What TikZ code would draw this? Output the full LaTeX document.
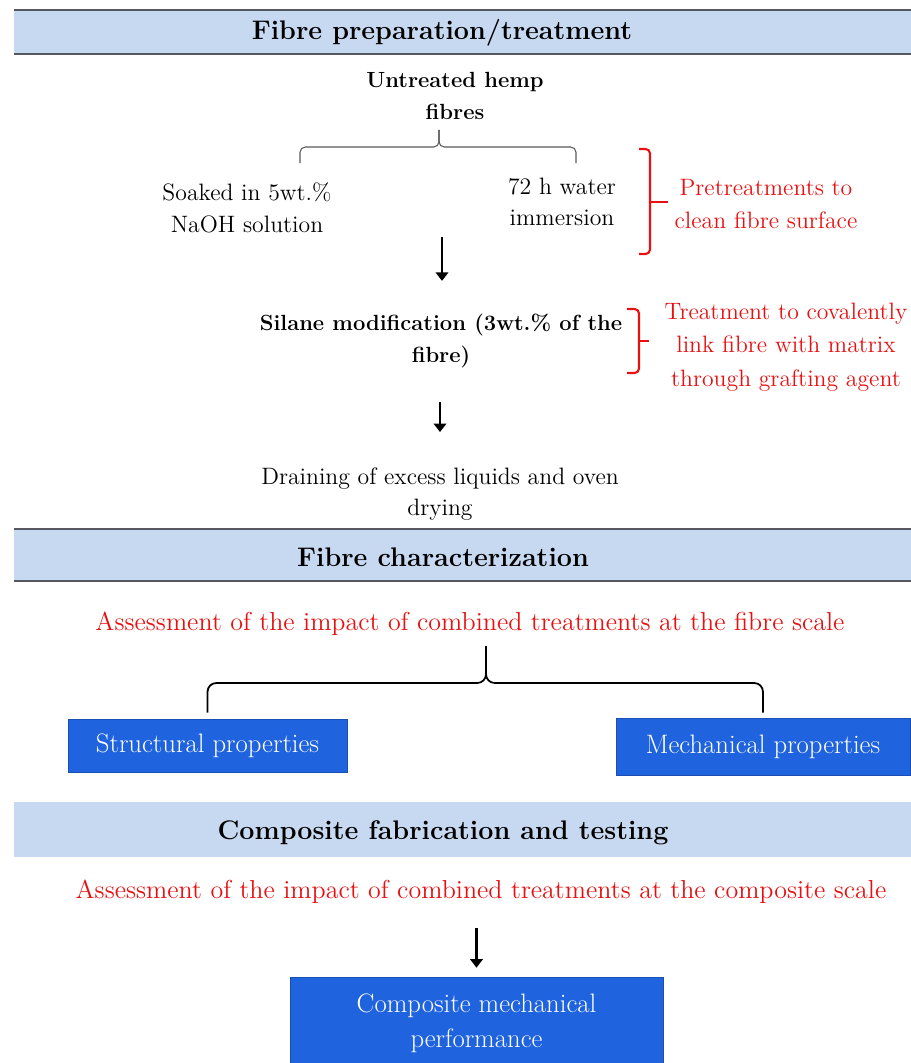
\documentclass[tikz,border=0pt]{standalone}
\usepackage{fontspec}
\usepackage{xcolor}
\usepackage{tikz}
\usetikzlibrary{arrows.meta,positioning,calc}

\definecolor{bandfill}{RGB}{199,217,240}
\definecolor{bandedge}{RGB}{85,88,96}
\definecolor{boxblue}{RGB}{31,99,222}
\definecolor{notered}{RGB}{232,16,16}

\begin{document}
\begin{tikzpicture}[x=0.02cm,y=-0.02cm,
  band/.style={fill=bandfill,minimum width=17.94cm,inner sep=0},
  head/.style={font=\bfseries\fontsize{15.3}{18}\selectfont,inner sep=0},
  txt/.style={font=\fontsize{13.5}{18}\selectfont,align=center,inner sep=0},
  btxt/.style={txt,font=\bfseries\fontsize{12.5}{18}\selectfont},
  note/.style={txt,text=notered,font=\fontsize{13.5}{19}\selectfont},
  wide/.style={font=\fontsize{14.8}{19}\selectfont},
  bluebox/.style={txt,fill=boxblue,draw=boxblue!80!black,line width=0.4pt,text=white,
    font=\fontsize{15.2}{20}\selectfont},
  flow/.style={line width=1.7pt,-{Triangle[length=1.7mm,width=2.5mm]}},
  bracket/.style={notered,line width=1.2pt,rounded corners=2.5pt},
  fork/.style={line width=0.6pt,rounded corners=3pt},
]
  \useasboundingbox (0,0) rectangle (911,1063);

  % fibre preparation
  \node[band,minimum height=0.88cm] (band1) at (462.5,32) {};
  \draw[bandedge,line width=1.2pt] (band1.north west) -- (band1.north east)
    (band1.south west) -- (band1.south east);
  \node[head] (head1) at (442,33) {Fibre preparation/treatment};
  \node[btxt] (hemp) at (455,96) {Untreated hemp\\fibres};

  \node[txt] (soak) at (247,208) {Soaked in 5wt.\%\\NaOH solution};
  \node[txt] (water) at (562,202) {72 h water\\immersion};
  \node[note] (pretreat) at (766,204) {Pretreatments to\\clean fibre surface};

  \coordinate (split1) at (439,147);
  \coordinate (s1l) at (300,163);
  \coordinate (s1r) at (576,163);
  \draw[fork,black!65,shorten >=0.2cm] (s1l) |- (split1) -- (split1 |- hemp.south);
  \draw[fork,black!65,shorten >=0.2cm] (s1r) |- (split1) -- (split1 |- hemp.south);

  % pretreatment bracket
  \draw[bracket] (639,149) -| (650,254) -- (639,254);
  \coordinate (b1) at (650,202);
  \draw[bracket,shorten >=0.12cm] (b1) -- (b1 -| pretreat.west);

  \node[btxt] (silane) at (441,341) {Silane modification (3wt.\% of the\\fibre)};
  \node[note] (graft) at (786,347) {Treatment to covalently\\link fibre with matrix\\through grafting agent};
  \draw[bracket] (627,309) -| (639,373) -- (627,373);
  \coordinate (b2) at (639,341);
  \draw[bracket,shorten >=0.3cm] (b2) -- (b2 -| graft.west);

  \coordinate (a1) at (442,237);
  \draw[flow,shorten >=0.66cm] (a1) -- (a1 |- silane.north);

  \node[txt] (drain) at (440,494) {Draining of excess liquids and oven\\drying};
  \draw[flow,shorten <=0.68cm,shorten >=0.7cm] (silane.south -| drain.north) -- (drain.north);

  % fibre characterization
  \node[band,minimum height=1.04cm] (band2) at (462.5,555) {};
  \draw[bandedge,line width=1.2pt] (band2.north west) -- (band2.north east)
    (band2.south west) -- (band2.south east);
  \node[head] (head2) at (443,557) {Fibre characterization};
  \node[note,wide] (assess1) at (470,624) {Assessment of the impact of combined treatments at the fibre scale};

  \node[bluebox,minimum width=5.58cm,minimum height=1.06cm] (struct) at (207.5,745.5) {Structural properties};
  \node[bluebox,minimum width=5.88cm,minimum height=1.14cm] (mech) at (763,746.5) {Mechanical properties};

  \coordinate (split2) at (486,683);
  \draw[fork,line width=1pt,rounded corners=5pt,shorten <=0.12cm,shorten >=0.2cm]
    (struct.north) |- (split2) -- (split2 |- assess1.south);
  \draw[fork,line width=1pt,rounded corners=5pt,shorten <=0.1cm,shorten >=0.2cm]
    (mech.north) |- (split2) -- (split2 |- assess1.south);

  % composite fabrication
  \node[band,minimum height=1.1cm] (band3) at (462.5,829.5) {};
  \node[head] (head3) at (443,833) {Composite fabrication and testing};
  \node[note,wide] (assess2) at (481,892) {Assessment of the impact of combined treatments at the composite scale};

  \node[bluebox,minimum width=7.46cm,minimum height=1.86cm] (comp) at (476.5,1023.5) {Composite mechanical\\performance};
  \draw[flow,shorten <=0.48cm,shorten >=0.18cm] (assess2.south -| comp.north) -- (comp.north);
\end{tikzpicture}
\end{document}
